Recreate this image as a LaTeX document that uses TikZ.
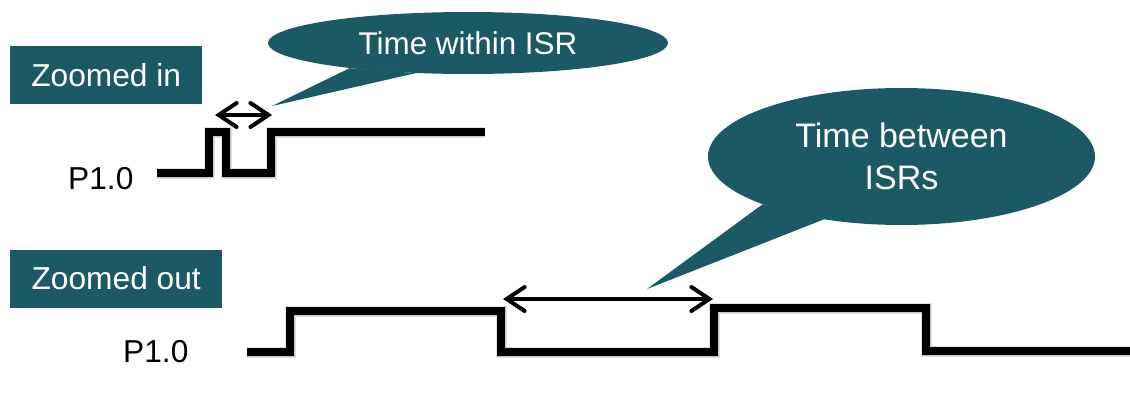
\documentclass[tikz,border=0pt]{standalone}
\usepackage{fontspec}
\setmainfont{Liberation Sans}
\usetikzlibrary{shapes.geometric,arrows.meta}
\definecolor{tealbox}{RGB}{27,90,101}
\tikzset{
  label box/.style={fill=tealbox,text=white,minimum height=58pt,inner sep=0pt,
    font=\fontsize{31.7}{38}\selectfont,anchor=west},
  bubble/.style={ellipse,fill=tealbox,text=white,inner sep=0pt,align=center},
  pin/.style={font=\fontsize{31.7}{38}\selectfont,anchor=base west,inner sep=0pt},
  signal/.style={line width=7.5pt,line join=miter,line cap=butt},
  signal shadow/.style={line join=miter,draw=black,opacity=0.12,
    shift={(2pt,4pt)}},
  span/.style={line width=4pt,{Straight Barb[length=18pt,width=24pt,line cap=round]}-{Straight Barb[length=18pt,width=24pt,line cap=round]}}
}
\begin{document}
\begin{tikzpicture}[x=1pt,y=-1pt]
\useasboundingbox (0,0) rectangle (1130,404);

% ---- zoomed-in view ----
\node[label box,minimum width=192pt] (lin) at (10,75) {Zoomed in};
\node[pin] (p1) at (68,189) {P1.0};

\coordinate (a0) at (157,173);
\coordinate (a1) at (209,173);
\coordinate (a2) at (209,132);
\coordinate (a3) at (226,132);
\coordinate (a4) at (226,173);
\coordinate (a5) at (271,173);
\coordinate (a6) at (271,132);
\coordinate (a7) at (485,132);
\foreach \w in {11,9}
  \draw[signal shadow,line width=\w pt] (a0) -- (a1) -- (a2) -- (a3) -- (a4) -- (a5) -- (a6) -- (a7);
\draw[signal] (a0) -- (a1) -- (a2) -- (a3) -- (a4) -- (a5) -- (a6) -- (a7);

\coordinate (w0) at (215,115);
\coordinate (w1) at (272,115);
\draw[span] (w0) -- (w1);

\node[bubble,minimum width=400pt,minimum height=62pt,
      font=\fontsize{31.4}{38}\selectfont] (b1) at (468,43) {Time within ISR};
\coordinate (t1) at (272,106);
\fill[tealbox] (b1.192) -- (t1) -- (b1.210) -- cycle;

% ---- zoomed-out view ----
\node[label box,minimum width=212pt] (lout) at (10,278.5) {Zoomed out};
\node[pin] (p2) at (123,362) {P1.0};

\coordinate (c0) at (247,352);
\coordinate (c1) at (290,352);
\coordinate (c2) at (290,311);
\coordinate (c3) at (501,311);
\coordinate (c4) at (501,352);
\coordinate (c5) at (714,352);
\coordinate (c6) at (714,308);
\coordinate (c7) at (926,308);
\coordinate (c8) at (926,351);
\coordinate (c9) at (1130,351);
\foreach \w in {11,9}
  \draw[signal shadow,line width=\w pt] (c0) -- (c1) -- (c2) -- (c3) -- (c4) -- (c5) -- (c6) -- (c7) -- (c8) -- (c9);
\draw[signal] (c0) -- (c1) -- (c2) -- (c3) -- (c4) -- (c5) -- (c6) -- (c7) -- (c8) -- (c9);

\coordinate (v0) at (503,299);
\coordinate (v1) at (713,299);
\draw[span] (v0) -- (v1);

\node[bubble,minimum width=387pt,minimum height=137pt,
      font=\fontsize{34}{42}\selectfont] (b2) at (901.5,156.5) {Time between\\ISRs};
\coordinate (t2) at (647,289);
\fill[tealbox] (b2.199.7) -- (t2) -- (b2.219.4) -- cycle;
\end{tikzpicture}
\end{document}
